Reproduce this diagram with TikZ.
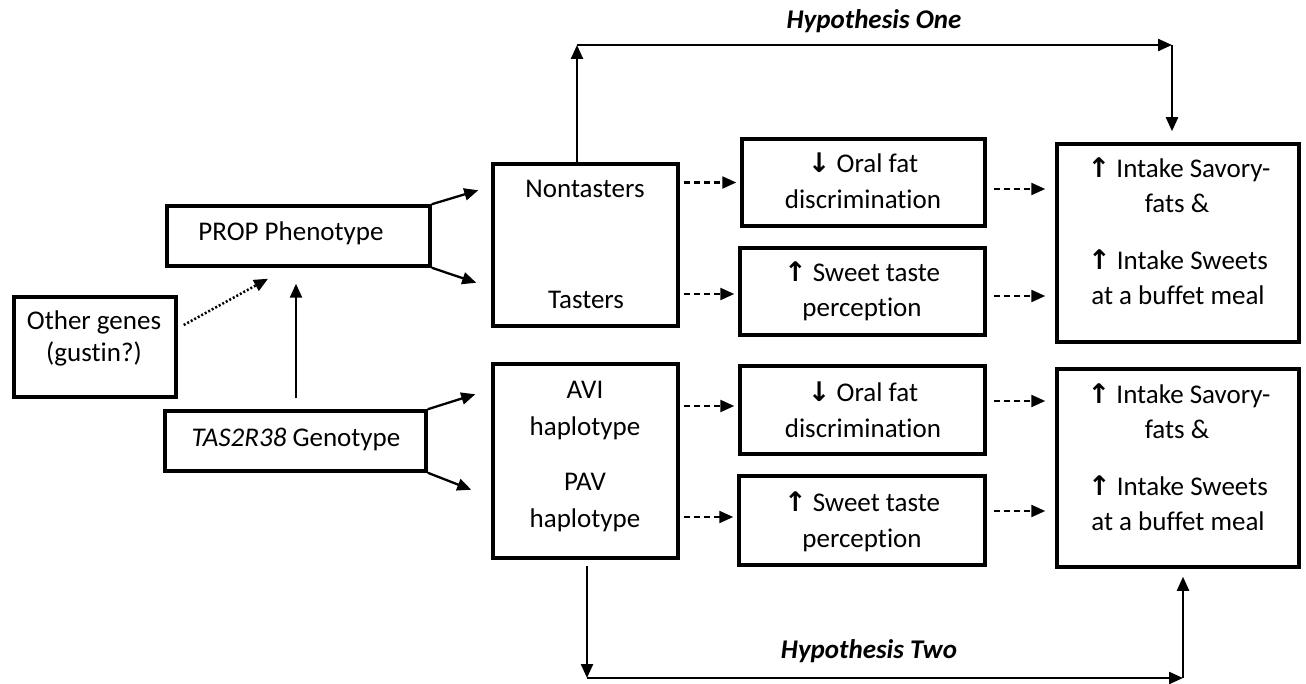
\documentclass[tikz,border=0pt]{standalone}
\usepackage{fontspec}
\setmainfont[Ligatures=NoCommon]{Carlito}
\newfontfamily\arrfont{DejaVu Sans}
\usetikzlibrary{arrows.meta,calc}
\newcommand{\UpA}{{\arrfont\bfseries ↑}}
\newcommand{\DnA}{{\arrfont\bfseries ↓}}
\begin{document}
\begin{tikzpicture}[x=1pt,y=-1pt,
  font=\fontsize{27}{33}\selectfont,
  box/.style={draw, line width=3.5pt, inner sep=0pt},
  txt/.style={anchor=base, inner sep=0pt},
  arr/.style={line width=2.3pt, -{Triangle[length=14pt,width=12pt]}},
  dsh/.style={arr, dash pattern=on 6pt off 4pt},
  dotarr/.style={arr, line width=2.5pt, dash pattern=on 2pt off 2pt}]
\useasboundingbox (0,0) rectangle (1306,684);
% boxes
\node[box, minimum width=263pt, minimum height=60pt] (prop) at (298.5,236) {};
\node[box, minimum width=162pt, minimum height=100pt] (other) at (95,347) {};
\node[box, minimum width=261pt, minimum height=60pt] (tas) at (295.5,441) {};
\node[box, minimum width=185pt, minimum height=162pt] (nont) at (585.5,245) {};
\node[box, minimum width=185pt, minimum height=194pt] (hap) at (585.5,461) {};
\node[box, minimum width=243pt, minimum height=87pt] (of1) at (863.5,182.5) {};
\node[box, minimum width=245pt, minimum height=87pt] (sw1) at (862.5,291.5) {};
\node[box, minimum width=245pt, minimum height=88pt] (of2) at (862.5,410) {};
\node[box, minimum width=246pt, minimum height=89pt] (sw2) at (862,520.5) {};
\node[box, minimum width=242pt, minimum height=198pt] (in1) at (1178,243) {};
\node[box, minimum width=242pt, minimum height=198pt] (in2) at (1178,468) {};
% texts
\node[txt] (propT) at (291,241) {PROP Phenotype};
\node[txt] (otherT1) at (94,330) {Other genes};
\node[txt] (otherT2) at (94,362) {(gustin?)};
\node[txt] (tasT) at (296,446) {\textit{TAS2R38} Genotype};
\node[txt] (nontT) at (585,198) {Nontasters};
\node[txt] (tastT) at (586,309) {Tasters};
\node[txt] (aviT1) at (585,399) {AVI};
\node[txt] (aviT2) at (585,435) {haplotype};
\node[txt] (pavT1) at (585,490) {PAV};
\node[txt] (pavT2) at (585,527) {haplotype};
\node[txt] (of1T1) at (863,173) {\DnA{} Oral fat};
\node[txt] (of1T2) at (863,209) {discrimination};
\node[txt] (sw1T1) at (862,282) {\UpA{} Sweet taste};
\node[txt] (sw1T2) at (862,317) {perception};
\node[txt] (of2T1) at (863,401) {\DnA{} Oral fat};
\node[txt] (of2T2) at (863,437) {discrimination};
\node[txt] (sw2T1) at (862,511) {\UpA{} Sweet taste};
\node[txt] (sw2T2) at (862,547) {perception};
\node[txt] (in1T1) at (1179,178) {\UpA{} Intake Savory-};
\node[txt] (in1T2) at (1177,213) {fats \&};
\node[txt] (in1T3) at (1178,270) {\UpA{} Intake Sweets};
\node[txt] (in1T4) at (1178,305) {at a buffet meal};
\node[txt] (in2T1) at (1179,403) {\UpA{} Intake Savory-};
\node[txt] (in2T2) at (1177,438) {fats \&};
\node[txt] (in2T3) at (1178,495) {\UpA{} Intake Sweets};
\node[txt] (in2T4) at (1178,530) {at a buffet meal};
\node[txt, font=\fontsize{27}{33}\selectfont\bfseries\itshape] (h1) at (874,29) {Hypothesis One};
\node[txt, font=\fontsize{27}{33}\selectfont\bfseries\itshape] (h2) at (869,658) {Hypothesis Two};
% left connectors
\draw[arr] (prop.north east) -- ($(nont.north west)+(-13,28)$);
\draw[arr] (prop.south east) -- ($(nont.south west)+(-15,-45)$);
\draw[arr] (tas.north east) -- ($(hap.north west)+(-16,32)$);
\draw[arr] (tas.south east) -- ($(hap.south west)+(-20,-70)$);
\draw[dotarr] ($(other.east)+(6,-22)$) -- ($(prop.south)+(-30.5,11)$);
\draw[arr] ($(tas.north)+(0.5,-11)$) -- ($(prop.south)+(-2.5,16)$);
% dashed middle
\draw[dsh] ($(nont.east |- of1.west)+(4,0)$) -- ($(of1.west)+(-4,0)$);
\draw[dsh] ($(nont.east |- sw1.west)+(4,2.5)$) -- ($(sw1.west)+(-4,2.5)$);
\draw[dsh] ($(hap.east |- of2.west)+(4,-4)$) -- ($(of2.west)+(-4,-4)$);
\draw[dsh] ($(hap.east |- sw2.west)+(4,-3.5)$) -- ($(sw2.west)+(-4,-3.5)$);
% dashed right
\draw[dsh] ($(of1.east)+(7,6.5)$) -- ($(of1.east -| in1.west)+(-10,6.5)$);
\draw[dsh] ($(sw1.east)+(7,4.5)$) -- ($(sw1.east -| in1.west)+(-10,4.5)$);
\draw[dsh] ($(of2.east)+(7,-9)$) -- ($(of2.east -| in2.west)+(-10,-9)$);
\draw[dsh] ($(sw2.east)+(7,-9.5)$) -- ($(sw2.east -| in2.west)+(-10,-9.5)$);
% hypothesis one
\coordinate (c1) at (577,45);
\coordinate (c2) at (1172,45);
\draw[arr] ($(nont.north)+(-8.5,0)$) -- (c1);
\draw[arr] (c1) -- (c2);
\draw[arr] (c2) -- ($(c2 |- in1.north)+(0,-11)$);
% hypothesis two
\coordinate (c3) at (587,678);
\coordinate (c4) at (1183,678);
\draw[arr] ($(hap.south)+(1.5,6)$) -- (c3);
\draw[arr] (c3) -- (c4);
\draw[arr] (c4) -- ($(c4 |- in2.south)+(0,8)$);
\end{tikzpicture}
\end{document}
